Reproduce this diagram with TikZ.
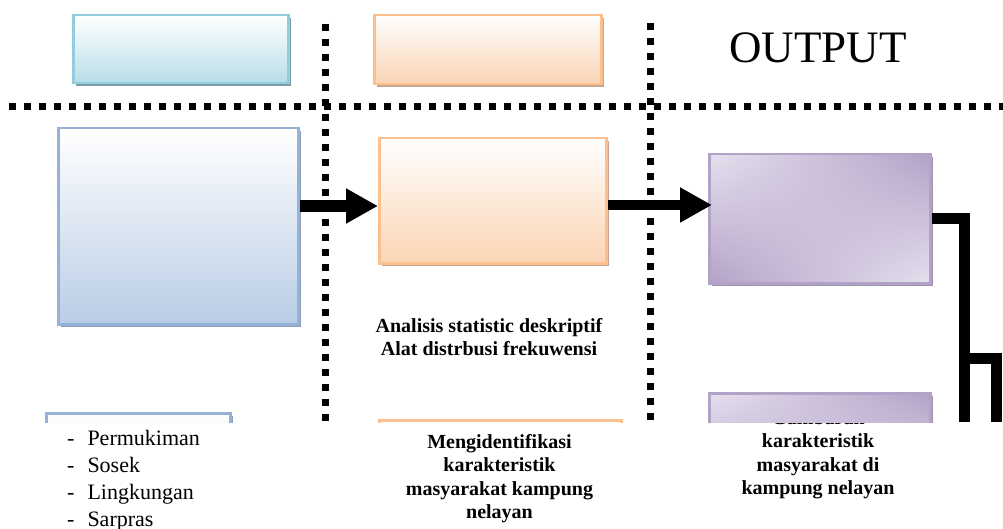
\documentclass[tikz,border=0pt]{standalone}
\usepackage{fontspec}
\setmainfont{Liberation Serif}
\usetikzlibrary{arrows.meta,shadows,shadings}
\definecolor{cyanb}{HTML}{93CDDD}
\definecolor{cyanf}{HTML}{B7DEE8}
\definecolor{cyans}{HTML}{7A9EA6}
\definecolor{orb}{HTML}{FAC090}
\definecolor{orf}{HTML}{FBD4B4}
\definecolor{ors}{HTML}{C8A58A}
\definecolor{blb}{HTML}{95B3D7}
\definecolor{blf}{HTML}{B9CDE5}
\definecolor{bls}{HTML}{8E9FB5}
\definecolor{pub}{HTML}{B3A2C7}
\definecolor{pul}{HTML}{E6E0EE}
\definecolor{pus}{HTML}{9D93AB}
\begin{document}
\begin{tikzpicture}[x=1pt,y=-1pt,
  box/.style={draw, line width=2.5pt, inner sep=0pt, anchor=north west},
  cyanbox/.style={box, draw=cyanb, top color=white, bottom color=cyanf,
     general shadow={fill=cyans, shadow xshift=3pt, shadow yshift=-3pt}},
  orbox/.style={box, draw=orb, top color=white, bottom color=orf,
     general shadow={fill=ors, shadow xshift=3pt, shadow yshift=-3pt}},
  blbox/.style={box, draw=blb, top color=white, bottom color=blf,
     general shadow={fill=bls, shadow xshift=3pt, shadow yshift=-3pt}},
  pubox/.style={box, draw=pub, upper left=pul, upper right=pub, lower left=pub, lower right=pul,
     general shadow={fill=pus, shadow xshift=3pt, shadow yshift=-3pt}},
  dotline/.style={line width=7pt, dash pattern=on 7pt off 8pt},
  bigarrow/.style={line width=12pt, -{Triangle[length=32pt,width=33pt]}},
  conn/.style={line width=11pt, miter limit=10},
  boldtxt/.style={font=\fontsize{20}{23.5}\selectfont\bfseries, align=center, inner sep=0pt, anchor=north},
  listtxt/.style={font=\fontsize{22}{27}\selectfont, align=left, inner sep=0pt, anchor=north west}
]
\useasboundingbox (0,0) rectangle (1003,529);

% texts
\node[font=\fontsize{45}{54}\selectfont, inner sep=0pt] (out) at (818,48) {OUTPUT};
\node[boldtxt] (anl) at (489,318) {Analisis statistic deskriptif\\Alat distrbusi frekuwensi};
\node[boldtxt] (men) at (499.5,434) {Mengidentifikasi\\karakteristik\\masyarakat kampung\\nelayan};
\node[boldtxt] (gam) at (818,410) {Gambaran\\karakteristik\\masyarakat di\\kampung nelayan};
\node[listtxt] (lst) at (67,430) {-\hspace{13pt}Permukiman\\-\hspace{13pt}Sosek\\-\hspace{13pt}Lingkungan\\-\hspace{13pt}Sarpras};

% dotted grid lines
\draw[dotline] (9,107) -- (1003,107);
\draw[dotline] (325,24) -- (325,422);
\draw[dotline] (650,23) -- (650,424);

% boxes (page cut at y=422)
\begin{scope}
\clip (0,0) rectangle (1003,422);
\node[cyanbox, minimum width=215pt, minimum height=68pt] (in) at (72,14) {};
\node[orbox, minimum width=227pt, minimum height=69pt] (pr) at (373,14) {};
\node[blbox, minimum width=240pt, minimum height=196pt] (bl) at (57,127) {};
\node[orbox, minimum width=227pt, minimum height=125pt] (or1) at (378,137) {};
\node[pubox, minimum width=221pt, minimum height=129pt] (pu1) at (708,153) {};
\node[blbox, minimum width=184pt, minimum height=100pt] (bl2) at (45,412) {};
\node[orbox, minimum width=242pt, minimum height=100pt] (or2) at (378,419) {};
\node[pubox, minimum width=221pt, minimum height=100pt] (pu2) at (708,392) {};
\end{scope}

% arrows
\coordinate (a1) at (378,206);
\coordinate (a2) at (712,205);
\draw[bigarrow] (bl.east |- a1) -- (a1);
\draw[bigarrow, line width=10pt] (or1.east |- a2) -- (a2);

% right connectors
\coordinate (c1) at (964.5,422);
\coordinate (b0) at (964.5,358);
\coordinate (b1) at (996,422);
\draw[conn] (pu1.east) -| (c1);
\draw[conn] (b0) -| (b1);
\end{tikzpicture}
\end{document}
